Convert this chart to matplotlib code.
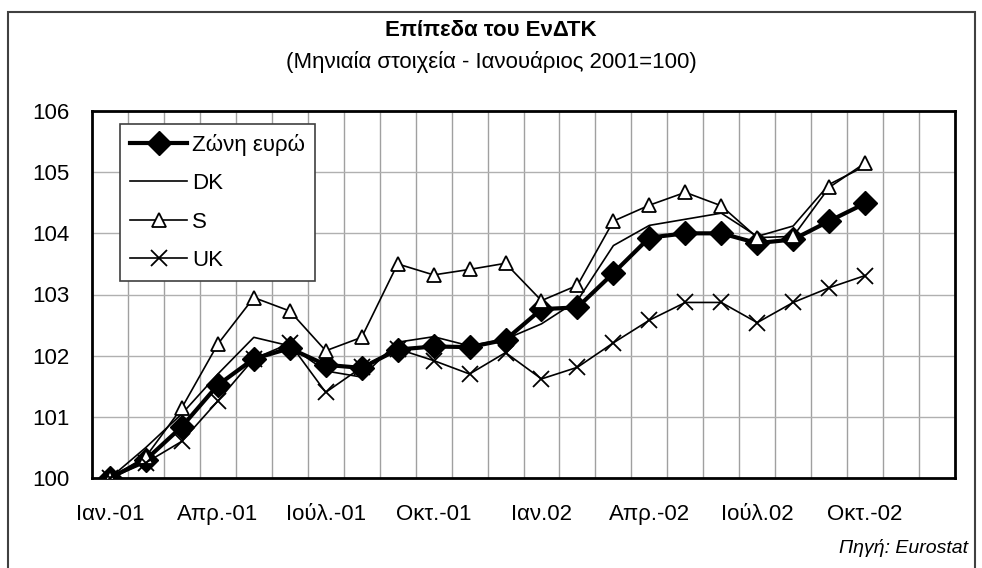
import numpy as np
import matplotlib.pyplot as plt
from matplotlib.patches import Rectangle

plt.rcParams['font.family'] = ['Liberation Sans', 'DejaVu Sans']

# months Jan-01 .. Dec-02 on a category axis, data to Oct-02
n_cats = 24
tick_pos = [0, 3, 6, 9, 12, 15, 18, 21]
tick_labels = ['Ιαν.-01', 'Απρ.-01', 'Ιούλ.-01', 'Οκτ.-01', 'Ιαν.02',
               'Απρ.-02', 'Ιούλ.02', 'Οκτ.-02']

euro = [100.0, 100.3, 100.84, 101.52, 101.95, 102.12, 101.85, 101.8,
        102.1, 102.15, 102.14, 102.26, 102.76, 102.79, 103.35, 103.93,
        104.0, 104.0, 103.84, 103.9, 104.2, 104.49]
dk = [100.0, 100.5, 101.05, 101.7, 102.3, 102.16, 101.75, 101.65,
      102.22, 102.31, 102.16, 102.27, 102.52, 102.9, 103.8, 104.13,
      104.23, 104.33, 103.95, 104.12, 104.8, 105.1]
s = [100.0, 100.35, 101.15, 102.19, 102.95, 102.73, 102.08, 102.3,
     103.5, 103.32, 103.41, 103.51, 102.9, 103.15, 104.2, 104.46,
     104.67, 104.45, 103.93, 103.95, 104.75, 105.15]
uk = [100.0, 100.25, 100.6, 101.26, 101.95, 102.2, 101.4, 101.81,
      102.11, 101.92, 101.7, 102.05, 101.62, 101.81, 102.21, 102.58,
      102.87, 102.87, 102.54, 102.87, 103.11, 103.31]

fig = plt.figure(figsize=(9.82, 5.68), dpi=100)
ax = fig.add_axes([92/982, 1-478/568, (955-92)/982, (478-111)/568])

x = np.arange(len(euro))
ax.plot(x, euro, color='black', lw=3, marker='D', ms=12, label='Ζώνη ευρώ', zorder=3)
ax.plot(x, dk, color='black', lw=1.2, label='DK', zorder=4)
ax.plot(x, s, color='black', lw=1.2, marker='^', ms=10, mfc='white', mec='black',
        mew=1.3, label='S', zorder=4)
ax.plot(x, uk, color='black', lw=1.2, marker='x', ms=11, mew=1.3, label='UK', zorder=4)

ax.set_xlim(-0.5, n_cats - 0.5)
ax.set_ylim(100, 106)
ax.set_yticks(range(100, 107))
ax.set_xticks(tick_pos)
ax.set_xticklabels(tick_labels)
ax.set_xticks(np.arange(0.5, n_cats - 0.5, 1), minor=True)
ax.grid(axis='x', which='minor', color='#a0a0a0', lw=1)
ax.grid(axis='y', which='major', color='#b0b0b0', lw=1)
ax.tick_params(axis='both', which='both', length=0, labelsize=16)
ax.tick_params(axis='x', pad=19)
ax.tick_params(axis='y', pad=16)
for sp in ax.spines.values():
    sp.set_linewidth(2)
    sp.set_color('black')

leg = ax.legend(loc='upper left', bbox_to_anchor=(0.032, 0.965), borderaxespad=0,
                fontsize=16, handlelength=2.6, handletextpad=0.2, labelspacing=0.78,
                fancybox=False, framealpha=1, edgecolor='#404040', borderpad=0.45)
leg.get_frame().set_linewidth(1.2)
leg.set_zorder(5)

fig.text(0.5, 1-31/568, 'Επίπεδα του ΕνΔΤΚ', ha='center', va='center',
         fontsize=16, fontweight='bold')
fig.text(0.5, 1-62/568, '(Μηνιαία στοιχεία - Ιανουάριος 2001=100)', ha='center',
         va='center', fontsize=16)
fig.text(968/982, 1-548/568, 'Πηγή: Eurostat', ha='right', va='center',
         fontsize=14, style='italic')

fig.patches.append(Rectangle((8/982, -0.02), (975-8)/982, 1.02-12/568,
                             transform=fig.transFigure, fill=False,
                             edgecolor='#404040', lw=1.5))

fig.savefig('out.png', dpi=100)
